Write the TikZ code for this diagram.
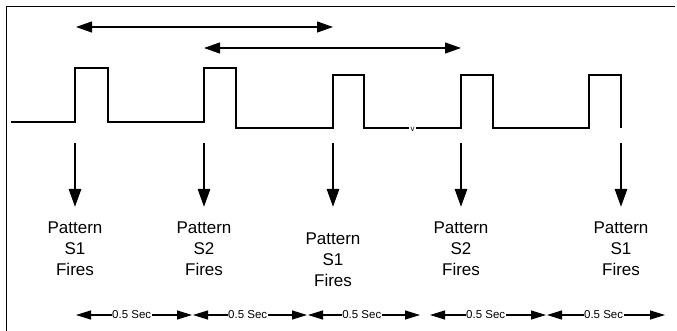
\documentclass[tikz,border=0pt]{standalone}
\usepackage{fontspec}
\setmainfont{Liberation Sans}
\usetikzlibrary{arrows.meta}
\begin{document}
\begin{tikzpicture}[x=1pt,y=-1pt,
  frameline/.style={line width=1pt},
  wave/.style={line width=2.7pt, line join=miter},
  firearrow/.style={line width=2.7pt, -{Triangle[length=18pt,width=12pt]}},
  spanarrow/.style={line width=1.2pt, {Triangle[length=16pt,width=11pt]}-{Triangle[length=16pt,width=11pt]}},
  secarrow/.style={line width=1.2pt, {Triangle[length=15pt,width=9pt]}-{Triangle[length=15pt,width=9pt]}},
  firelabel/.style={align=center, font=\fontsize{17}{21}\selectfont, inner sep=0pt, anchor=north},
  seclabel/.style={font=\fontsize{11.5}{13}\selectfont, fill=white, inner sep=0.6pt},
  gaplabel/.style={font=\fontsize{8}{9}\selectfont, inner sep=0pt},
]
\useasboundingbox (0,0) rectangle (677,331);
% frame
\coordinate (fr1) at (675,7);
\coordinate (fr2) at (6,7);
\coordinate (fr3) at (6,331);
\draw[frameline] (fr1) -- (fr2) -- (fr3);

% waveform
\draw[wave] (11,122) -- (75,122) -- (75,68) -- (108,68) -- (108,122) -- (204,122) -- (204,68) -- (236,68) -- (236,128) -- (333,128) -- (333,75) -- (364,75) -- (364,128) -- (409,128);
\draw[wave] (416,128) -- (461,128) -- (461,75) -- (493,75) -- (493,128) -- (589,128) -- (589,75) -- (621,75) -- (621,128);
\node[gaplabel] (gapv) at (412.5,129) {v};

% span arrows
\coordinate (sa1) at (76,27);
\coordinate (sb1) at (333,27);
\coordinate (sa2) at (204,48);
\coordinate (sb2) at (461,48);
\draw[spanarrow] (sa1) -- (sb1);
\draw[spanarrow] (sa2) -- (sb2);

% fire arrows and labels
\foreach \i/\x/\yy/\s in {1/75/222/S1, 2/204/222/S2, 3/333/233/S1, 4/461/222/S2, 5/621/222/S1}{
  \coordinate (ft\i) at (\x,143);
  \coordinate (fb\i) at (\x,207);
  \draw[firearrow] (ft\i) -- (fb\i);
  \node[firelabel] (lab\i) at (\x,\yy) {Pattern\\\s\\Fires};
}

% 0.5 sec arrows
\foreach \i/\a/\b in {1/76/192, 2/193/307, 3/308/420, 4/430/546, 5/547/665}{
  \coordinate (ta\i) at (\a,315);
  \coordinate (tb\i) at (\b,315);
  \draw[secarrow] (ta\i) -- (tb\i) node[seclabel, pos=0.48] (sec\i) {0.5 Sec};
}
\end{tikzpicture}
\end{document}
